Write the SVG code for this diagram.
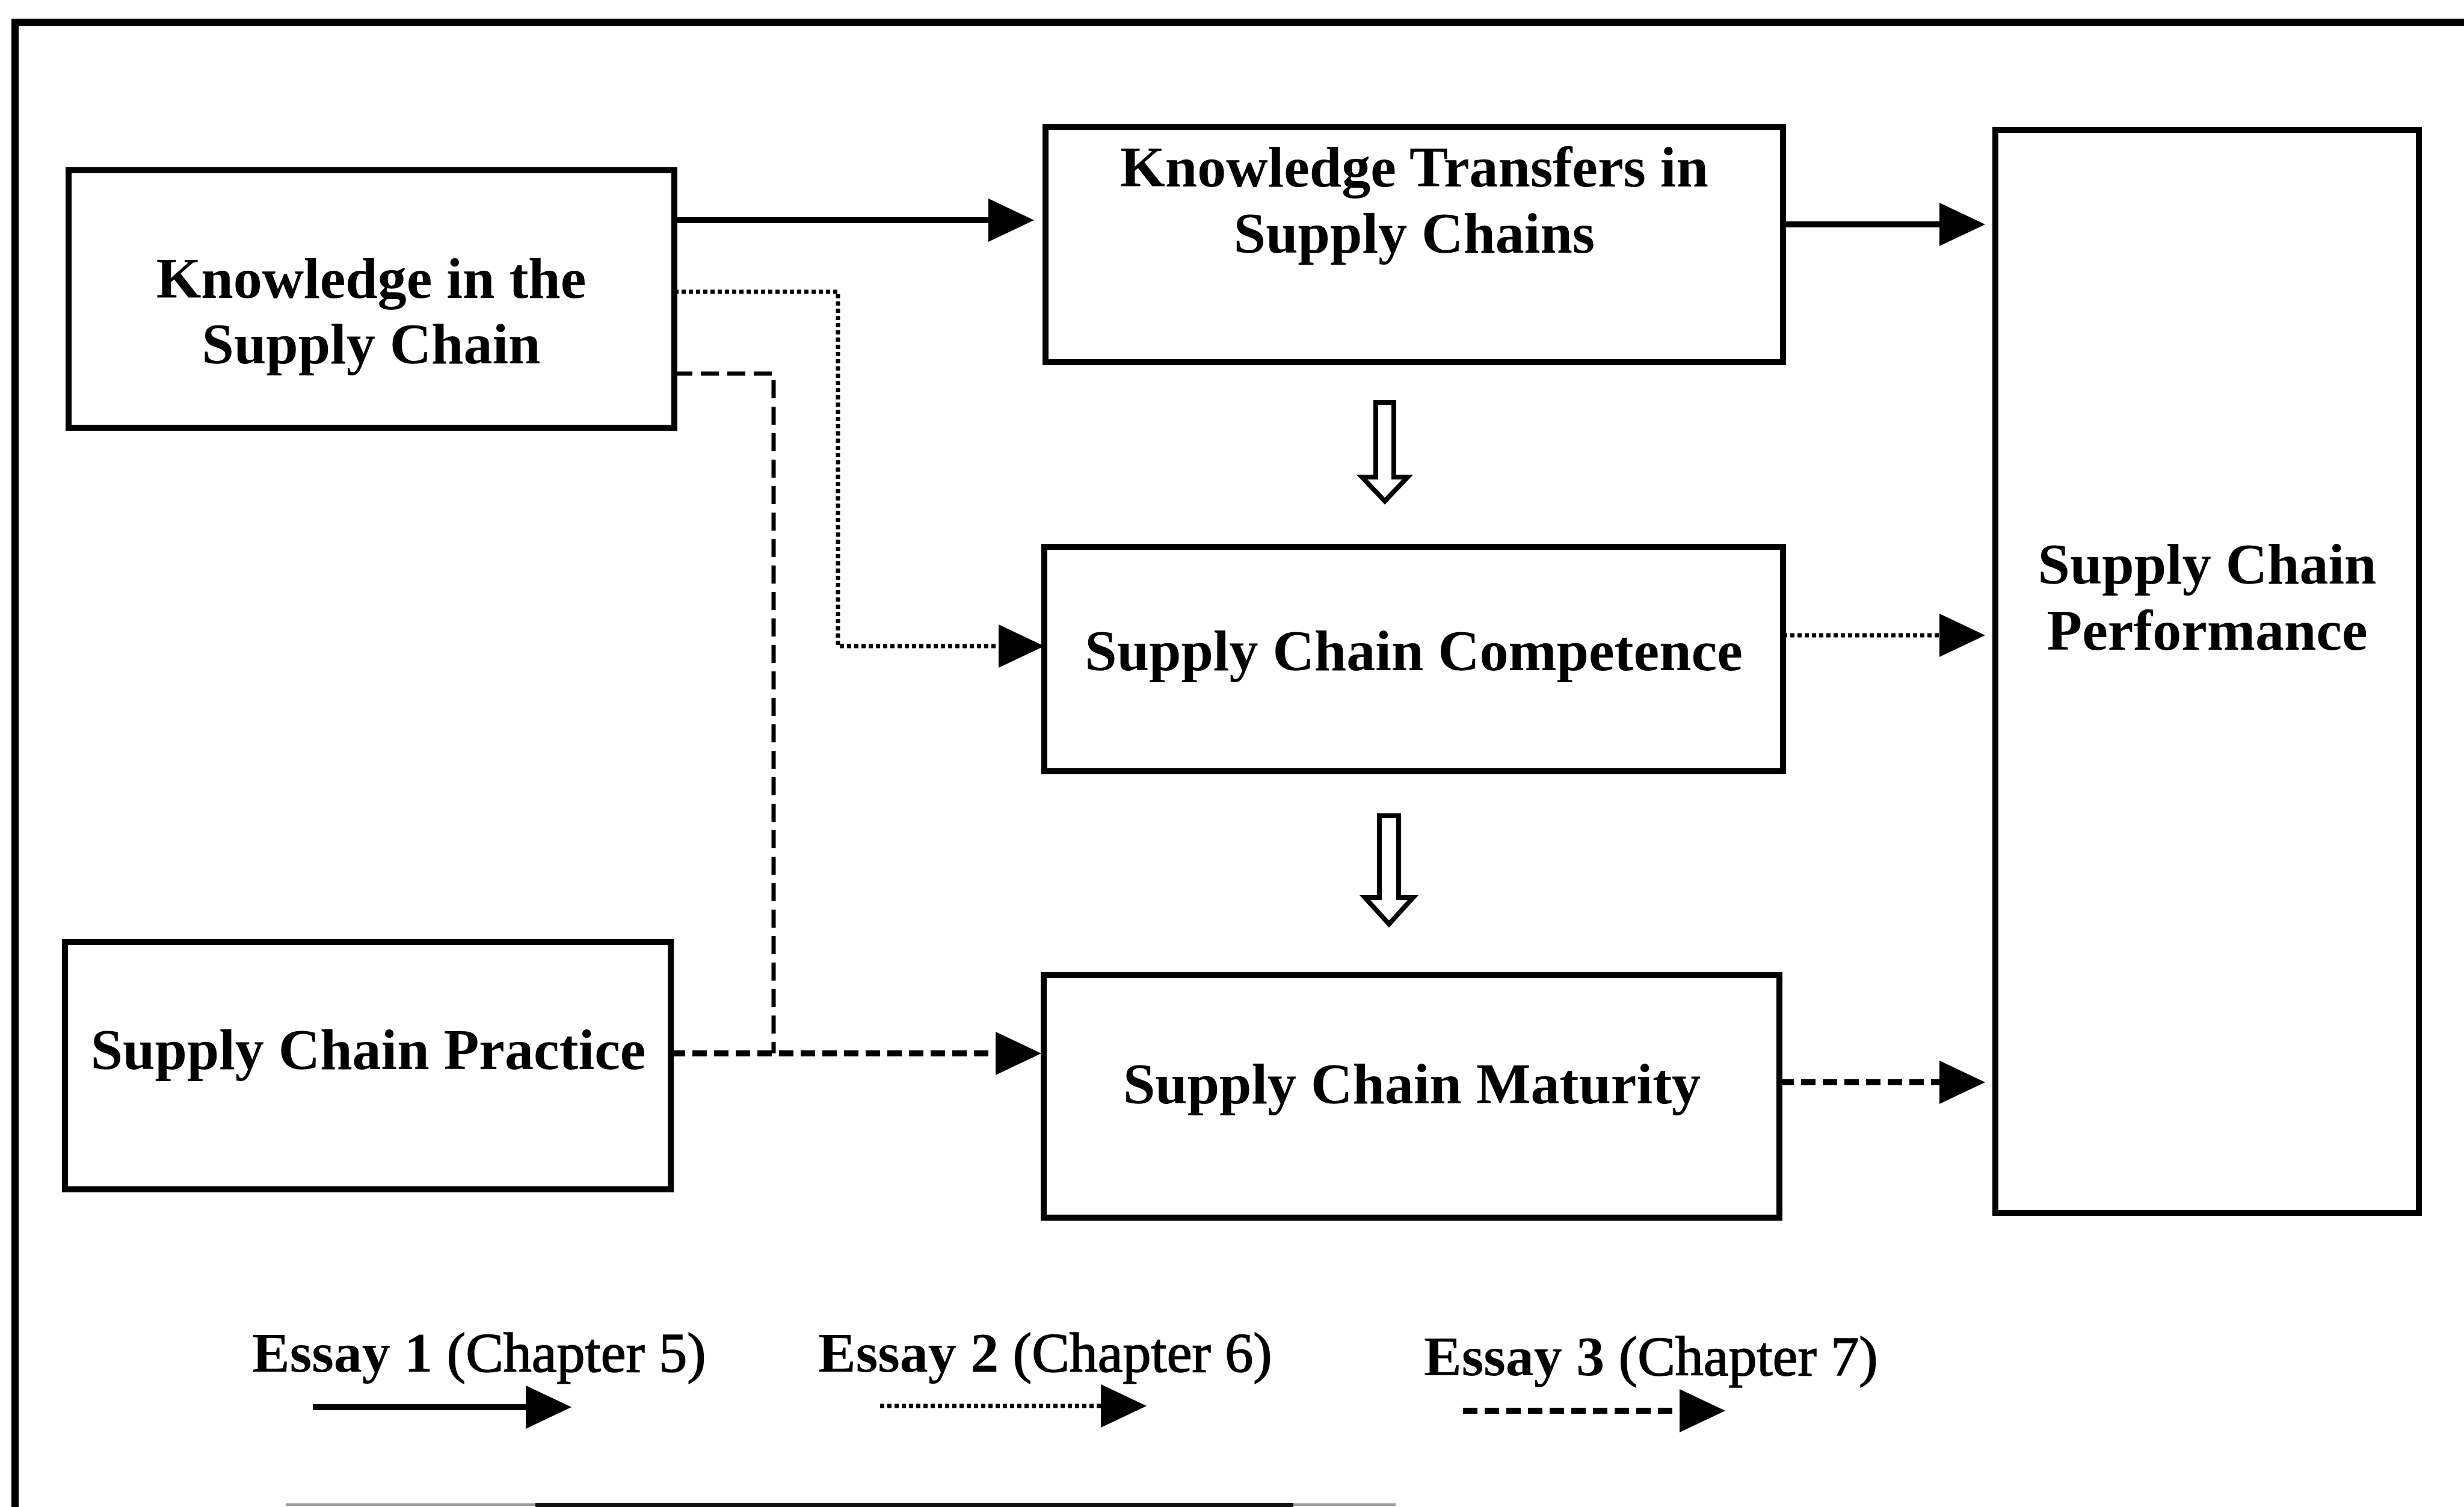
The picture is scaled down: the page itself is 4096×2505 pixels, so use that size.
<svg xmlns="http://www.w3.org/2000/svg" width="4096" height="2505" viewBox="0 0 4096 2505">
<style>
.box{fill:#fff;stroke:#000;stroke-width:10}
.t{font-family:"Liberation Serif","Times New Roman",serif;font-weight:bold;font-size:96px;fill:#000;text-anchor:middle}
.lg{font-family:"Liberation Serif","Times New Roman",serif;font-size:94px;fill:#000}
.lg .ch{stroke:#000;stroke-width:1.6}
.solid{fill:none;stroke:#000;stroke-width:10}
.dot{fill:none;stroke:#000;stroke-width:7;stroke-dasharray:7 5}
.dash{fill:none;stroke:#000;stroke-width:10;stroke-dasharray:24 12}
.dashv{fill:none;stroke:#000;stroke-width:7;stroke-dasharray:30 14}
.block{fill:#fff;stroke:#000;stroke-width:8;stroke-linejoin:miter}
</style>
<defs>
<marker id="ah" markerUnits="userSpaceOnUse" viewBox="0 -40 80 80" markerWidth="80" markerHeight="80" refX="0" refY="0" orient="auto" overflow="visible">
<path d="M0,-36 L76,0 L0,36 Z" fill="#000"/>
</marker>
</defs>
<rect width="4096" height="2505" fill="#fff"/>
<path d="M25,2505 V37 H4096" fill="none" stroke="#000" stroke-width="12"/>
<rect x="475" y="2499" width="1845" height="4" fill="#999"/>
<rect x="890" y="2498" width="1260" height="7" fill="#111"/>

<g id="n-knowledge">
<rect class="box" x="114" y="283" width="1007" height="428"/>
<text class="t" x="617" y="495">Knowledge in the</text>
<text class="t" x="617" y="604">Supply Chain</text>
</g>
<g id="n-transfers">
<rect class="box" x="1738" y="211" width="1226" height="391"/>
<text class="t" x="2351" y="310">Knowledge Transfers in</text>
<text class="t" x="2351" y="420">Supply Chains</text>
</g>
<g id="n-competence">
<rect class="box" x="1736" y="909" width="1228" height="373"/>
<text class="t" x="2350" y="1114">Supply Chain Competence</text>
</g>
<g id="n-maturity">
<rect class="box" x="1735" y="1621" width="1223" height="403"/>
<text class="t" x="2347" y="1834">Supply Chain Maturity</text>
</g>
<g id="n-practice">
<rect class="box" x="108" y="1566" width="1007" height="411"/>
<text class="t" x="612" y="1777">Supply Chain Practice</text>
</g>
<g id="n-performance">
<rect class="box" x="3317" y="216" width="704" height="1800"/>
<text class="t" x="3669" y="970">Supply Chain</text>
<text class="t" x="3669" y="1080">Performance</text>
</g>

<g id="connectors">
<path class="solid" d="M1121,366 H1643" marker-end="url(#ah)"/>
<path class="dot" d="M1121,485 H1393 V1074 H1660" marker-end="url(#ah)"/>
<path class="dashv" d="M1121,621 H1286 V1751"/>
<path class="dash" d="M1115,1751 H1655" marker-end="url(#ah)"/>
<path class="solid" d="M2964,373 H3224" marker-end="url(#ah)"/>
<path class="dot" d="M2964,1056 H3224" marker-end="url(#ah)"/>
<path class="dash" d="M2958,1799 H3224" marker-end="url(#ah)"/>
<path class="block" d="M2287,669 H2317 V793 H2340 L2302,833 L2264,793 H2287 Z"/>
<path class="block" d="M2293,1356 H2325 V1492 H2349 L2309,1536 L2269,1492 H2293 Z"/>
</g>

<g id="legend">
<text class="lg" x="419" y="2280"><tspan font-weight="bold">Essay 1</tspan> <tspan class="ch">(Chapter 5)</tspan></text>
<text class="lg" x="1360" y="2280"><tspan font-weight="bold">Essay 2</tspan> <tspan class="ch">(Chapter 6)</tspan></text>
<text class="lg" x="2367" y="2286"><tspan font-weight="bold">Essay 3</tspan> <tspan class="ch">(Chapter 7)</tspan></text>
<path class="solid" d="M520,2339 H874" marker-end="url(#ah)"/>
<path class="dot" d="M1463,2337 H1830" marker-end="url(#ah)"/>
<path class="dash" d="M2432,2345 H2792" marker-end="url(#ah)"/>
</g>
</svg>
